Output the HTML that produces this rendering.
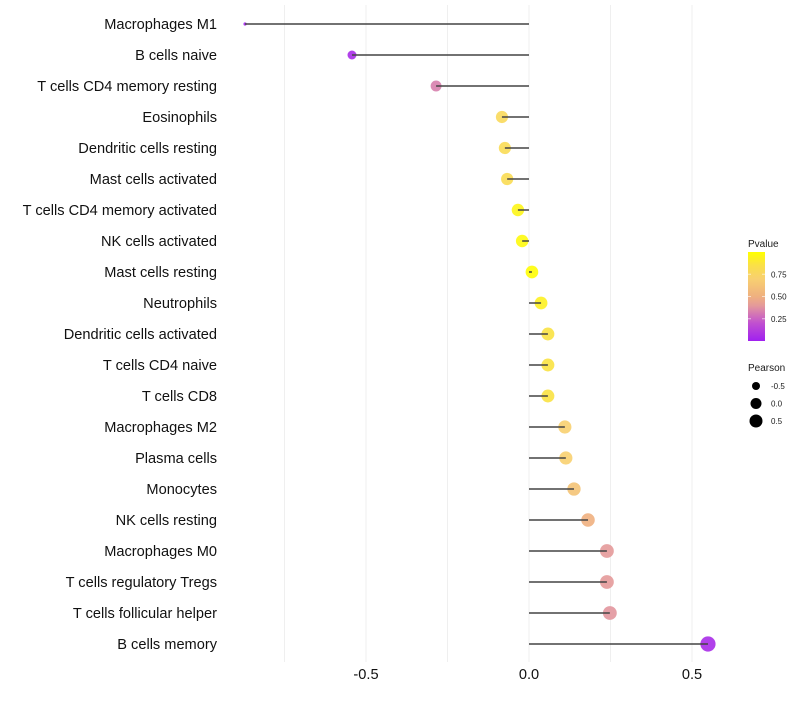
<!DOCTYPE html>
<html><head><meta charset="utf-8"><style>
body{margin:0;background:#fff;font-family:"Liberation Sans",sans-serif}
</style></head><body>
<svg id="c" width="800" height="700" xmlns="http://www.w3.org/2000/svg"></svg>
<script>
const categories=["Macrophages M1","B cells naive","T cells CD4 memory resting","Eosinophils","Dendritic cells resting","Mast cells activated","T cells CD4 memory activated","NK cells activated","Mast cells resting","Neutrophils","Dendritic cells activated","T cells CD4 naive","T cells CD8","Macrophages M2","Plasma cells","Monocytes","NK cells resting","Macrophages M0","T cells regulatory  Tregs ","T cells follicular helper","B cells memory"];
const pearson=[-0.871,-0.543,-0.285,-0.083,-0.074,-0.067,-0.034,-0.021,0.009,0.037,0.058,0.058,0.058,0.110,0.113,0.138,0.181,0.239,0.239,0.248,0.549];
const pvalue=[0.02,0.05,0.33,0.78,0.80,0.81,0.95,0.97,0.99,0.93,0.86,0.86,0.86,0.70,0.70,0.62,0.50,0.40,0.40,0.39,0.05];
const xTicks=[-0.5,0.0,0.5];
const xTickLabels=["-0.5","0.0","0.5"];
const gridVals=[-0.75,-0.5,-0.25,0,0.25,0.5];
const legendP=[0.75,0.50,0.25];
const legendPLabels=["0.75","0.50","0.25"];
const legendR=[-0.5,0.0,0.5];
const legendRLabels=["-0.5","0.0","0.5"];

const svg=document.getElementById('c');
const NS='http://www.w3.org/2000/svg';
const X=v=>529+v*326;
const Y=i=>24+i*31;
function R(v){return 1.6+6.0*Math.sqrt(Math.max(0,v+0.87)/1.42);}
const stops=[[0,[160,32,240]],[0.2,[192,80,208]],[0.4,[228,154,154]],[0.5,[239,176,128]],[0.7,[248,208,112]],[0.85,[250,224,72]],[1,[255,255,0]]];
function col(p){for(let k=1;k<stops.length;k++){if(p<=stops[k][0]){const a=stops[k-1],b=stops[k];const t=(p-a[0])/(b[0]-a[0]);const c=a[1].map((x,i)=>Math.round(x+(b[1][i]-x)*t));return `rgb(${c[0]},${c[1]},${c[2]})`;}}return 'rgb(255,255,0)';}
function el(t,a,txt){const e=document.createElementNS(NS,t);for(const k in a)e.setAttribute(k,a[k]);if(txt!=null)e.textContent=txt;svg.appendChild(e);return e;}

gridVals.forEach(v=>{const g=el('line',{x1:X(v),x2:X(v),y1:5,y2:662,stroke:'#efefef','stroke-width':1});

});

categories.forEach((c,i)=>{
const t=el('text',{x:217,y:Y(i)+5,'text-anchor':'end','font-size':14.6,fill:'#111'},c);


const d=el('circle',{cx:X(pearson[i]),cy:Y(i),r:R(pearson[i]),fill:col(pvalue[i]),'fill-opacity':0.9});


const l=el('line',{x1:X(0),x2:X(pearson[i]),y1:Y(i),y2:Y(i),stroke:'#444','stroke-width':1.5});


});

xTicks.forEach((v,i)=>{const t=el('text',{x:X(v),y:679,'text-anchor':'middle','font-size':14.6,fill:'#111'},xTickLabels[i]);

});

const defs=el('defs',{});
const lg=document.createElementNS(NS,'linearGradient');lg.setAttribute('id','g');lg.setAttribute('x1',0);lg.setAttribute('y1',1);lg.setAttribute('x2',0);lg.setAttribute('y2',0);
for(let k=0;k<=20;k++){const s=document.createElementNS(NS,'stop');s.setAttribute('offset',k/20);s.setAttribute('stop-color',col(k/20));lg.appendChild(s);}
defs.appendChild(lg);
const lt=el('text',{x:748,y:247,'font-size':10,fill:'#1a1a1a'},'Pvalue');


const bar=el('rect',{x:748,y:252,width:17,height:89,fill:'url(#g)'});


legendP.forEach((p,i)=>{const y=341-p*89;
el('line',{x1:748,x2:751,y1:y,y2:y,stroke:'#fff','stroke-opacity':0.6});
el('line',{x1:762,x2:765,y1:y,y2:y,stroke:'#fff','stroke-opacity':0.6});
const t=el('text',{x:771,y:y+3,'font-size':8,fill:'#1a1a1a'},legendPLabels[i]);

});
const pt=el('text',{x:748,y:371,'font-size':10,fill:'#1a1a1a'},'Pearson');


legendR.forEach((v,i)=>{const y=386+i*17.5;
const c=el('circle',{cx:756,cy:y,r:[4,5.5,6.5][i],fill:'#000'});


const t=el('text',{x:771,y:y+3,'font-size':8,fill:'#1a1a1a'},legendRLabels[i]);

});
</script>
</body></html>
